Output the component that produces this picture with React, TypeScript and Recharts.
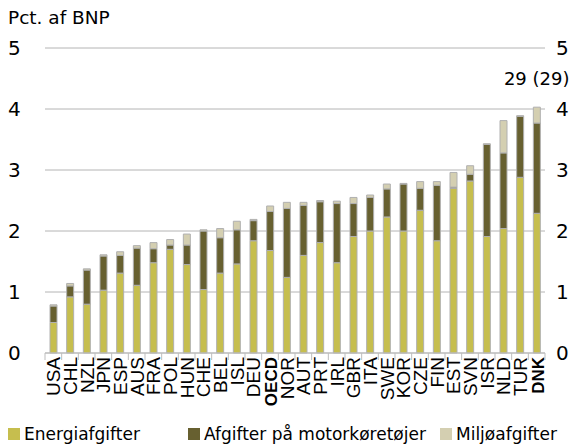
import React from "react";
import { BarChart, Bar, XAxis, YAxis, CartesianGrid, ReferenceDot, Legend } from "recharts";

const categories = ["USA","CHL","NZL","JPN","ESP","AUS","FRA","POL","HUN","CHE","BEL","ISL","DEU","OECD","NOR","AUT","PRT","IRL","GBR","ITA","SWE","KOR","CZE","FIN","EST","SVN","ISR","NLD","TUR","DNK"];
const energi = [0.50,0.92,0.80,1.03,1.31,1.11,1.48,1.70,1.45,1.04,1.31,1.46,1.84,1.68,1.24,1.60,1.81,1.48,1.91,2.00,2.23,2.00,2.34,1.84,2.70,2.82,1.91,2.04,2.88,2.29];
const motor = [0.27,0.18,0.56,0.56,0.29,0.61,0.23,0.07,0.32,0.96,0.58,0.56,0.33,0.64,1.13,0.82,0.67,0.97,0.54,0.55,0.46,0.77,0.36,0.91,0.02,0.11,1.51,1.24,1.00,1.48];
const miljo = [0.02,0.04,0.02,0.02,0.06,0.04,0.10,0.09,0.18,0.02,0.15,0.14,0.02,0.09,0.10,0.05,0.02,0.04,0.10,0.04,0.08,0.01,0.11,0.06,0.24,0.14,0.01,0.53,0.01,0.26];
const yTicks = [0,1,2,3,4,5];
const boldLabels = ["OECD","DNK"];
const seriesNames = ["Energiafgifter","Afgifter på motorkøretøjer","Miljøafgifter"];
const colors = ["#c6be4e","#676030","#d4cfb1"];
const annotation = "29 (29)";

const data = categories.map((c, i) => ({ name: c, energi: energi[i], motor: motor[i], miljo: miljo[i] }));

const FONT = "'DejaVu Sans', sans-serif";
const XFONT = "'Liberation Sans', Arial, sans-serif";
const W = 571, H = 446;
const LEFT = 45, RIGHT_W = 26;
const step = (W - LEFT - RIGHT_W) / categories.length;

const XTick = (props: any) => {
  const { x, y, payload, index } = props;
  const bold = boldLabels.includes(payload.value);
  return (
    <g>
      <line x1={x - step / 2} x2={x - step / 2} y1={y} y2={y + 7} stroke="#bdbdbd" />
      {index === categories.length - 1 && (
        <line x1={x + step / 2} x2={x + step / 2} y1={y} y2={y + 7} stroke="#bdbdbd" />
      )}
      <text
        transform={`translate(${x + 7},${y + 4}) rotate(-90)`}
        textAnchor="end"
        fontSize={bold ? 17 : 19}
        fontWeight={bold ? "bold" : "normal"}
        fontFamily={XFONT}
        fill="#000"
      >
        {payload.value}
      </text>
    </g>
  );
};

const YTick = (props: any) => {
  const { y, payload } = props;
  return (
    <g>
      <text x={8} y={y} dy={7} textAnchor="start" fontSize={20} fontFamily={FONT} fill="#000">
        {payload.value}
      </text>
      <text x={556} y={y} dy={7} textAnchor="start" fontSize={20} fontFamily={FONT} fill="#000">
        {payload.value}
      </text>
    </g>
  );
};

const legendSquareX = [8, 188, 440];

const LegendContent = () => (
  <div style={{ position: "relative", height: 33, width: W, fontFamily: FONT, fontSize: 17, color: "#000" }}>
    {seriesNames.map((n, i) => (
      <div key={n} style={{ position: "absolute", left: legendSquareX[i], top: 11, display: "flex", alignItems: "center", whiteSpace: "nowrap" }}>
        <span style={{ display: "inline-block", width: 12, height: 12, background: colors[i], marginRight: 4 }} />
        <span>{n}</span>
      </div>
    ))}
  </div>
);

export default function App() {
  return (
    <div style={{ position: "absolute", left: 0, top: 0, width: W, height: H, background: "#fff" }}>
      <div style={{ position: "absolute", left: 8, top: 7, fontFamily: FONT, fontSize: 18.5, color: "#000", zIndex: 2 }}>
        Pct. af BNP
      </div>
      <BarChart width={W} height={H} data={data} margin={{ top: 48, right: 0, bottom: 0, left: 0 }} barCategoryGap={0}>
        <CartesianGrid vertical={false} stroke="#b4b4b4" yAxisId="left" />
        <XAxis
          dataKey="name"
          interval={0}
          height={60}
          tickLine={false}
          tickSize={0}
          tickMargin={0}
          axisLine={{ stroke: "#bdbdbd" }}
          tick={<XTick />}
        />
        <YAxis yAxisId="left" width={LEFT} domain={[0, 5]} ticks={yTicks} axisLine={false} tickLine={false} tick={<YTick />} />
        <YAxis yAxisId="right" orientation="right" width={RIGHT_W} domain={[0, 5]} ticks={yTicks} axisLine={false} tickLine={false} tick={false} />
        <Legend verticalAlign="bottom" height={33} content={<LegendContent />} wrapperStyle={{ left: 0, bottom: 0 }} />
        <Bar yAxisId="left" dataKey="energi" name={seriesNames[0]} stackId="a" fill={colors[0]} stroke="#b0b0b0" strokeWidth={1} barSize={7} isAnimationActive={false} />
        <Bar yAxisId="left" dataKey="motor" name={seriesNames[1]} stackId="a" fill={colors[1]} stroke="#b0b0b0" strokeWidth={1} barSize={7} isAnimationActive={false} />
        <Bar yAxisId="left" dataKey="miljo" name={seriesNames[2]} stackId="a" fill={colors[2]} stroke="#b0b0b0" strokeWidth={1} barSize={7} isAnimationActive={false} />
        <ReferenceDot
          yAxisId="left"
          x="DNK"
          y={4.5}
          r={0}
          fill="none"
          stroke="none"
          label={{ value: annotation, position: "center", fontSize: 18, fill: "#000", fontFamily: FONT }}
        />
      </BarChart>
    </div>
  );
}
